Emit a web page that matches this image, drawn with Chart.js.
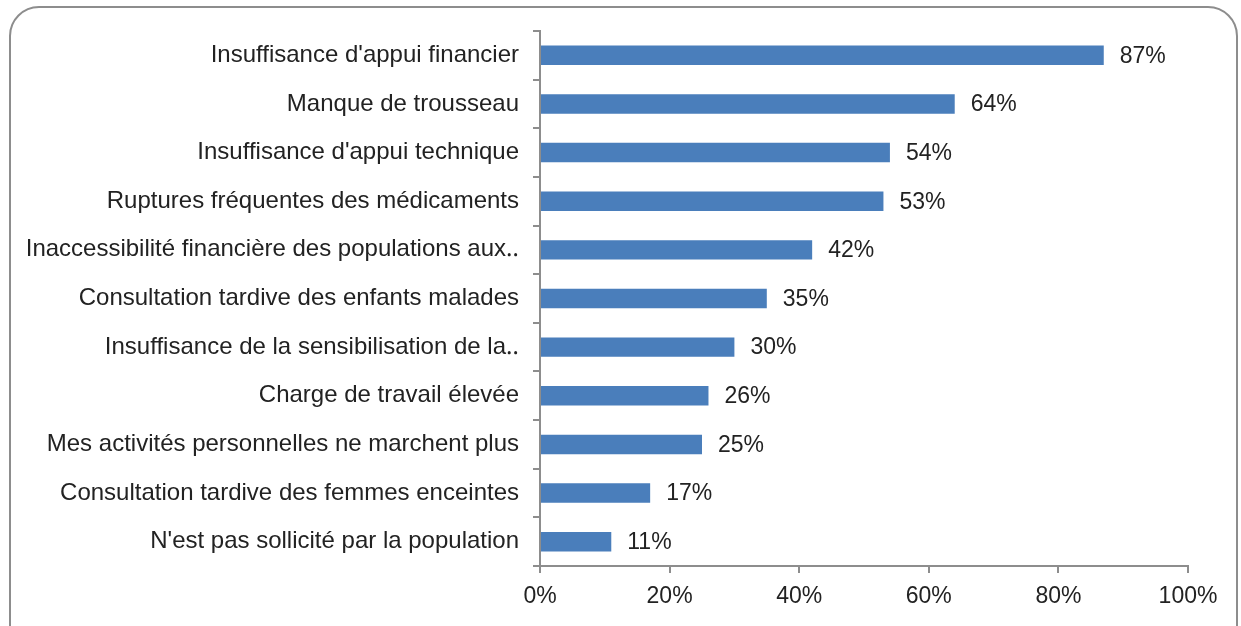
<!DOCTYPE html>
<html>
<head>
<meta charset="utf-8">
<script src="https://cdn.jsdelivr.net/npm/chart.js@4"></script>
<style>
  html, body { margin: 0; padding: 0; background: #fff; }
  #wrap { position: relative; width: 1241px; height: 626px; overflow: hidden; }
  #frame {
    position: absolute; left: 9px; top: 6px; width: 1229px; height: 650px;
    border: 2px solid #8d8d8d; border-radius: 30px; box-sizing: border-box;
  }
  #myChart { position: absolute; left: 0; top: 0; }
</style>
</head>
<body>
<div id="wrap">
  <div id="frame"></div>
  <canvas id="myChart" width="1241" height="626"></canvas>
</div>
<script>
// catégories (de haut en bas)
const categories = [
    "Insuffisance d'appui financier",
    "Manque de trousseau",
    "Insuffisance d'appui technique",
    "Ruptures fréquentes des médicaments",
    "Inaccessibilité financière des populations aux\u2025",
    "Consultation tardive des enfants malades",
    "Insuffisance de la sensibilisation de la\u2025",
    "Charge de travail élevée",
    "Mes activités personnelles ne marchent plus",
    "Consultation tardive des femmes enceintes",
    "N'est pas sollicité par la population"
];
const values = [87, 64, 54, 53, 42, 35, 30, 26, 25, 17, 11];
const xTicks = [0, 20, 40, 60, 80, 100];

const fontFamily = "'Liberation Sans', Arial, sans-serif";
const textColor = "#222222";
const axisColor = "#8d8d8d";
const barColor = "#4a7ebb";

// étiquettes de valeurs à droite des barres
const valueLabels = {
    id: "valueLabels",
    afterDatasetsDraw(chart) {
        const ctx = chart.ctx;
        const meta = chart.getDatasetMeta(0);
        ctx.save();
        ctx.font = "23px " + fontFamily;
        ctx.fillStyle = textColor;
        ctx.textAlign = "left";
        ctx.textBaseline = "middle";
        meta.data.forEach((bar, i) => {
            ctx.fillText(values[i] + "%", bar.x + 16, bar.y + 1);
        });
        ctx.restore();
    }
};

new Chart("myChart", {
    type: "bar",
    data: {
        labels: categories,
        datasets: [{
            data: values,
            backgroundColor: barColor,
            borderWidth: 0,
            categoryPercentage: 1,
            barPercentage: 0.4
        }]
    },
    options: {
        indexAxis: "y",
        responsive: false,
        animation: false,
        layout: { padding: { top: 31, right: 53, left: 0, bottom: 0 } },
        plugins: {
            legend: { display: false },
            tooltip: { enabled: false }
        },
        scales: {
            x: {
                min: 0,
                max: 100,
                afterBuildTicks: (scale) => { scale.ticks = xTicks.map(v => ({ value: v })); },
                ticks: {
                    callback: (v) => v + "%",
                    color: textColor,
                    font: { family: fontFamily, size: 23 },
                    padding: 10,
                    maxRotation: 0
                },
                grid: { drawOnChartArea: false, drawTicks: true, tickLength: 7, color: axisColor, lineWidth: 2 },
                border: { color: axisColor, width: 2 },
                afterFit: (scale) => { scale.height = 60; }
            },
            y: {
                ticks: {
                    color: textColor,
                    font: { family: fontFamily, size: 24 },
                    padding: 14,
                    autoSkip: false
                },
                grid: { drawOnChartArea: false, drawTicks: true, tickLength: 7, color: axisColor, lineWidth: 2, offset: true },
                border: { color: axisColor, width: 2 },
                afterFit: (scale) => { scale.width = 540; }
            }
        }
    },
    plugins: [valueLabels]
});
</script>
</body>
</html>
